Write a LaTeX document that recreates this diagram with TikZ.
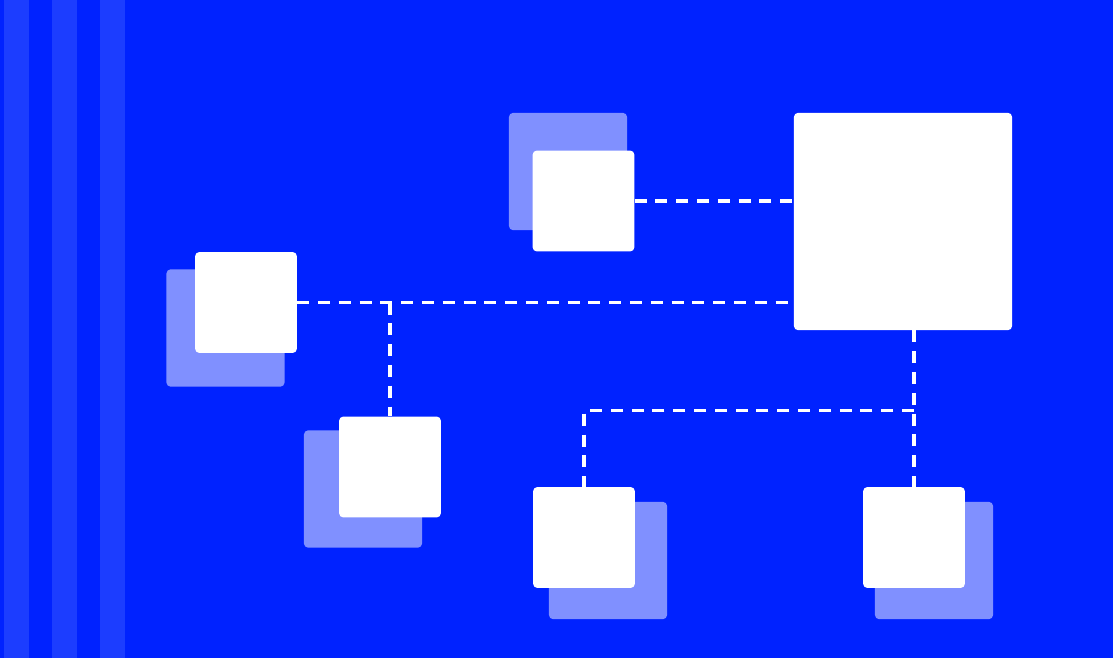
\documentclass[tikz,border=0pt]{standalone}
\usetikzlibrary{calc,positioning}
\definecolor{bgblue}{HTML}{0022FF}
\definecolor{stripeblue}{HTML}{1C3DFF}
\tikzset{
	box/.style={rectangle, fill=white, rounded corners=0.1cm, inner sep=0pt,
		minimum width=2.54cm, minimum height=2.52cm},
	bigbox/.style={box, minimum width=5.45cm, minimum height=5.43cm},
	ghost/.style={rectangle, fill=white, fill opacity=0.5, rounded corners=0.1cm, inner sep=0pt,
		minimum width=2.95cm, minimum height=2.93cm},
	link/.style={draw=white, line width=2.2pt, dash pattern=on 0.3cm off 0.22cm},
}

\begin{document}
\begin{tikzpicture}[x=0.025cm, y=-0.025cm]
		% background and stripes
		\fill[bgblue] (0,0) rectangle (1113,658);
		\useasboundingbox (0,0) rectangle (1113,658);
		\foreach \xs in {4,52,100}
			\fill[stripeblue] (\xs,0) rectangle ++(25,658);

		% shadows
		\node[ghost] (tps) at (568,171.5) {};
		\node[ghost] (lfs) at (225.5,328) {};
		\node[ghost] (mls) at (363,489) {};
		\node[ghost] (bms) at (608,560.5) {};
		\node[ghost] (brs) at (934,560.5) {};

		% boxes
		\node[bigbox] (big) at (903,221.5) {};
		\node[box] (tp) at (583.5,201) {};
		\node[box] (lf) at (246,302.5) {};
		\node[box] (ml) at (390,467) {};
		\node[box] (bm) at (584,537.5) {};
		\node[box] (br) at (914,537.5) {};

		\coordinate (j1) at (ml |- lf);
		\coordinate (j2) at ($(br.north)+(0,-76)$);

		\draw[link] (tp.east) -- (tp.east -| big.west)
			(lf.east) -- (lf.east -| big.west)
			(j1) -- (ml.north)
			(br.north |- big.south) -- (br.north)
			(j2) -| (bm.north);
	\end{tikzpicture}
\end{document}
